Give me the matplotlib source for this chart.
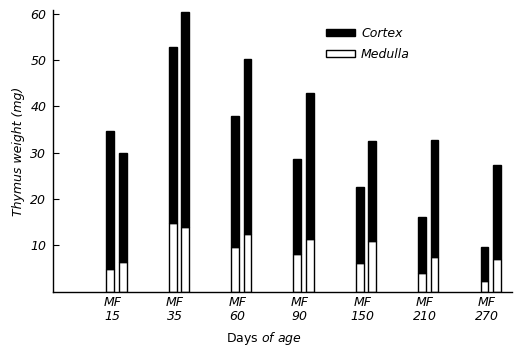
import matplotlib
matplotlib.use("Agg")
import matplotlib.pyplot as plt
import numpy as np
from matplotlib.patches import Patch

days = ["15", "35", "60", "90", "150", "210", "270"]
male_total = [34.8, 52.8, 38.0, 28.7, 22.7, 16.1, 9.7]
male_medulla = [5.0, 14.8, 9.6, 8.1, 6.3, 4.0, 2.4]
female_total = [29.9, 60.3, 50.3, 42.8, 32.6, 32.8, 27.4]
female_medulla = [6.4, 13.9, 12.5, 11.3, 10.9, 7.4, 7.1]
y_ticks = [10, 20, 30, 40, 50, 60]

plt.rcParams['font.family'] = ['DejaVu Sans']

fig = plt.figure(figsize=(5.16, 3.48), dpi=100)
ax = fig.add_axes([0.1033, 0.1618, 0.8887, 0.8092])

x = np.arange(len(days))
w = 0.125
off = 0.1
male_cortex = [t - m for t, m in zip(male_total, male_medulla)]
female_cortex = [t - m for t, m in zip(female_total, female_medulla)]

ax.bar(x - off, male_medulla, width=w, color='white', edgecolor='black', linewidth=1.0)
ax.bar(x - off, male_cortex, width=w, bottom=male_medulla, color='black', edgecolor='black', linewidth=1.0)
ax.bar(x + off, female_medulla, width=w, color='white', edgecolor='black', linewidth=1.0)
ax.bar(x + off, female_cortex, width=w, bottom=female_medulla, color='black', edgecolor='black', linewidth=1.0)

ax.set_xlim(-1.013, 6.34)
ax.set_ylim(0, 60.8)
ax.set_yticks(y_ticks)
ax.set_yticklabels([str(v) for v in y_ticks], fontstyle='italic', fontsize=9)
ax.tick_params(axis='y', direction='in', length=4, width=0.8, pad=5)
ax.set_xticks(x - 0.06)
ax.set_xticklabels(["MF\n" + d for d in days], fontstyle='italic', fontsize=9, linespacing=1.15)
ax.tick_params(axis='x', length=0, pad=3)

for s in ['top', 'right']:
    ax.spines[s].set_visible(False)
ax.spines['left'].set_linewidth(1.0)
ax.spines['bottom'].set_linewidth(1.0)

ax.set_ylabel("Thymus weight (mg)", fontstyle='italic', fontsize=9, labelpad=4)
ax.set_xlabel(r"Days $\mathit{of\ age}$", fontsize=9)
ax.xaxis.set_label_coords(0.46, -0.135)
ax.xaxis.label.set_verticalalignment('top')

handles = [Patch(facecolor='black', edgecolor='black', label='Cortex'),
           Patch(facecolor='white', edgecolor='black', label='Medulla')]
leg = ax.legend(handles=handles, frameon=False, loc='upper left',
                bbox_to_anchor=(0.565, 0.988), prop={'style': 'italic', 'size': 9},
                handlelength=2.3, handleheight=0.5, handletextpad=0.5,
                labelspacing=0.62, borderpad=0.6)

fig.savefig("out.png", dpi=100)
